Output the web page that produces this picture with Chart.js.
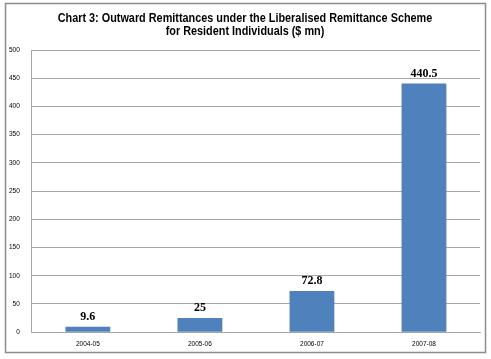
<!DOCTYPE html>
<html><head><meta charset="utf-8">
<script src="https://cdn.jsdelivr.net/npm/chart.js@4"></script>
<style>html,body{margin:0;padding:0;background:#fff}#wrap{width:491px;height:359px;position:relative}</style>
</head><body><div id="wrap"><canvas id="c" width="491" height="359"></canvas></div>
<script>
const categories = ["2004-05", "2005-06", "2006-07", "2007-08"];
const remittances = [9.6, 25, 72.8, 440.5];
const valueLabels = ["9.6", "25", "72.8", "440.5"];
const titleLines = ["Chart 3: Outward Remittances under the Liberalised Remittance Scheme", "for Resident Individuals ($ mn)"];

const frame = {
  id: 'frame',
  beforeDraw(chart) {
    const ctx = chart.ctx;
    ctx.save();
    ctx.strokeStyle = '#8c8c8c';
    ctx.lineWidth = 1.5;
    ctx.strokeRect(5.5, 3.5, 480, 349);
    // title, horizontally condensed
    ctx.fillStyle = '#000';
    ctx.textAlign = 'center';
    ctx.textBaseline = 'middle';
    ctx.font = 'bold 13px "Liberation Sans", Arial, sans-serif';
    const cx = 245;
    titleLines.forEach((t, i) => {
      ctx.save();
      ctx.translate(cx, 18 + i * 13);
      ctx.scale(0.835, 1);
      ctx.fillText(t, 0, 0);
      ctx.restore();
    });
    ctx.restore();
  },
  afterDatasetsDraw(chart) {
    const ctx = chart.ctx;
    const meta = chart.getDatasetMeta(0);
    ctx.save();
    ctx.font = 'bold 12px "Liberation Serif", "Times New Roman", serif';
    ctx.fillStyle = '#000';
    ctx.textAlign = 'center';
    ctx.textBaseline = 'middle';
    meta.data.forEach((bar, i) => {
      ctx.fillText(valueLabels[i], bar.x, bar.y - 10);
    });
    ctx.restore();
  }
};

new Chart(document.getElementById('c'), {
  type: 'bar',
  data: {
    labels: categories,
    datasets: [{
      data: remittances,
      backgroundColor: '#4f81bd',
      categoryPercentage: 1,
      barPercentage: 0.4
    }]
  },
  options: {
    responsive: false,
    animation: false,
    layout: { padding: { left: -3, right: 11, top: 50, bottom: 3 } },
    plugins: {
      legend: { display: false },
      tooltip: { enabled: false },
      title: { display: false }
    },
    scales: {
      x: {
        grid: { display: false, drawTicks: false },
        border: { color: '#a6a6a6', width: 1 },
        ticks: { color: '#000', font: { family: 'Arial, sans-serif', size: 6.5 }, padding: 8, maxRotation: 0 }
      },
      y: {
        min: 0, max: 500,
        ticks: { stepSize: 50, color: '#000', font: { family: 'Arial, sans-serif', size: 6.5 }, padding: 12 },
        grid: { color: '#a6a6a6', drawTicks: false },
        border: { color: '#a6a6a6', width: 1 }
      }
    }
  },
  plugins: [frame]
});
</script></body></html>
